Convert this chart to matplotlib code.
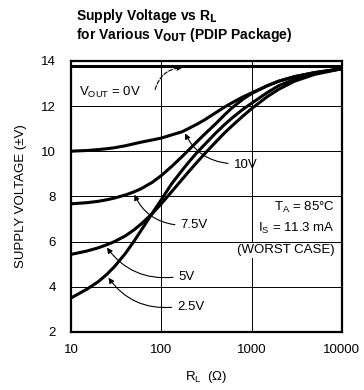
import matplotlib
matplotlib.use('Agg')
import matplotlib.pyplot as plt

# load resistance (ohm) and supply voltage
r_load = [10, 15, 20, 25, 30, 40, 50, 60, 80, 100, 130, 170, 200, 250, 300,
          400, 500, 600, 800, 1000, 1500, 2000, 3000, 5000, 10000]
v_0 = [13.75] * len(r_load)
v_10 = [10.0, 10.03, 10.07, 10.11, 10.15, 10.24, 10.33, 10.4, 10.5, 10.58, 10.72, 10.86, 11.0,
        11.2, 11.38, 11.7, 11.95, 12.13, 12.4, 12.58, 12.9, 13.1, 13.3, 13.48, 13.65]
v_75 = [7.67, 7.72, 7.78, 7.85, 7.92, 8.06, 8.2, 8.34, 8.63, 8.92, 9.32, 9.76, 10.04,
        10.43, 10.74, 11.21, 11.6, 11.9, 12.3, 12.55, 12.9, 13.1, 13.3, 13.48, 13.65]
v_5 = [5.43, 5.58, 5.72, 5.86, 5.99, 6.25, 6.52, 6.78, 7.25, 7.67, 8.2, 8.75, 9.08,
       9.52, 9.87, 10.4, 10.8, 11.1, 11.55, 11.88, 12.42, 12.74, 13.1, 13.4, 13.65]
v_25 = [3.5, 3.89, 4.22, 4.55, 4.87, 5.47, 6.02, 6.5, 7.27, 7.85, 8.55, 9.15, 9.5,
        9.95, 10.28, 10.8, 11.17, 11.45, 11.85, 12.12, 12.6, 12.9, 13.18, 13.45, 13.65]

x_ticks = [10, 100, 1000, 10000]
y_ticks = [2, 4, 6, 8, 10, 12, 14]

plt.rcParams['font.family'] = ['Liberation Sans', 'DejaVu Sans']

fig = plt.figure(figsize=(3.64, 3.90), dpi=100)
ax = fig.add_axes([0.195, 0.149, 0.744, 0.695])

for v in [v_0, v_10, v_75, v_5, v_25]:
    ax.plot(r_load, v, color='black', linewidth=2.2, solid_capstyle='butt')

ax.set_xscale('log')
ax.set_xlim(10, 10000)
ax.set_ylim(2, 14)
ax.set_xticks(x_ticks)
ax.set_xticklabels([str(t) for t in x_ticks])
ax.set_yticks(y_ticks)
ax.minorticks_off()
ax.tick_params(length=0, labelsize=9.5)
ax.tick_params(axis='x', pad=9)
ax.tick_params(axis='y', pad=11)
ax.grid(True, color='black', linewidth=0.7)
for s in ax.spines.values():
    s.set_linewidth(1.6)

ax.set_ylabel('SUPPLY VOLTAGE (\u00b1V)', fontsize=9.5, labelpad=10)
ax.set_xlabel('R$_\\mathregular{L}$  (\u03a9)', fontsize=9.5, labelpad=9)

fig.text(0.209, 0.949, 'Supply Voltage vs R$_\\mathbf{L}$', fontsize=10,
         fontweight='bold', va='baseline')
fig.text(0.209, 0.901, 'for Various V$_\\mathbf{OUT}$ (PDIP Package)', fontsize=10,
         fontweight='bold', va='baseline')

arrow = dict(arrowstyle='-|>', color='black', lw=0.8, mutation_scale=8,
             connectionstyle='arc3,rad=-0.3')

# curve labels with arrows
ax.text(27.4, 12.61, 'V$_\\mathregular{OUT}$ = 0V', fontsize=9.5, ha='center', va='center',
        bbox=dict(facecolor='white', edgecolor='none', pad=1))
ax.annotate('', xy=(185, 13.7), xytext=(84, 12.61),
            arrowprops=dict(arrow, ls='--', connectionstyle='arc3,rad=-0.4'))

ax.text(636, 9.39, '10V', fontsize=9.5, ha='left', va='center')
ax.annotate('', xy=(178, 10.9), xytext=(590, 9.45), arrowprops=arrow)

ax.text(164, 6.73, '7.5V', fontsize=9.5, ha='left', va='center')
ax.annotate('', xy=(49, 8.19), xytext=(152, 6.73), arrowprops=arrow)

ax.text(156, 4.43, '5V', fontsize=9.5, ha='left', va='center')
ax.annotate('', xy=(24, 5.83), xytext=(145, 4.43), arrowprops=arrow)

ax.text(152, 3.1, '2.5V', fontsize=9.5, ha='left', va='center')
ax.annotate('', xy=(25, 4.5), xytext=(140, 3.1), arrowprops=arrow)

box = dict(facecolor='white', edgecolor='none', pad=1)
ax.text(8300, 7.53, 'T$_\\mathregular{A}$ = 85\u00b0C', fontsize=9.5, ha='right', va='center', bbox=box)
ax.text(8300, 6.6, 'I$_\\mathregular{S}$ = 11.3 mA', fontsize=9.5, ha='right', va='center', bbox=box)
ax.text(8300, 5.62, '(WORST CASE)', fontsize=9.5, ha='right', va='center', bbox=box)

fig.savefig('out.png', dpi=100)
